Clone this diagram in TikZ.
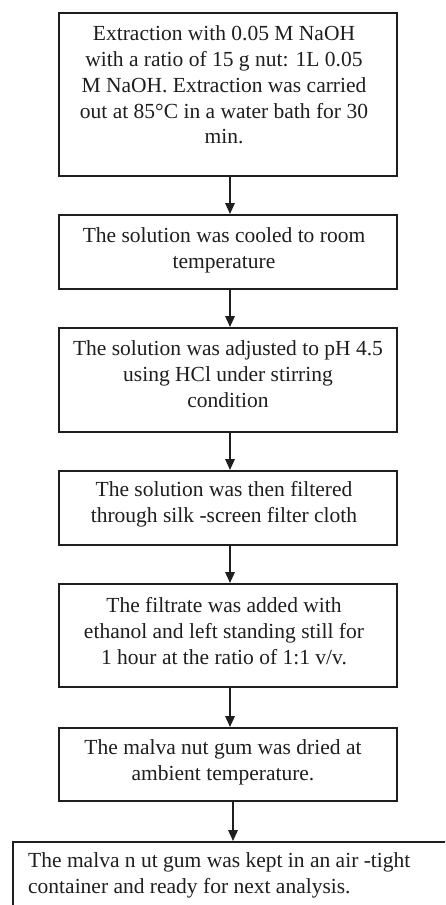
\documentclass[tikz,border=0pt]{standalone}
\usepackage{fontspec}
\setmainfont{Liberation Serif}
\usetikzlibrary{arrows.meta}
\definecolor{ink}{HTML}{1E1E1E}
\begin{document}
\begin{tikzpicture}[x=1pt,y=-1pt,
  box/.style={draw=ink, line width=2pt, rectangle, minimum width=338pt, inner sep=0pt},
  txt/.style={font=\fontsize{21.5}{25.8}\selectfont, text=ink, align=center, inner sep=0pt},
  arr/.style={draw=ink, line width=1.8pt, -{Triangle[width=9.5pt,length=11pt]}}]
\useasboundingbox (0,0) rectangle (445,905);
\clip (0,0) rectangle (445,905);
% boxes
\node[box, minimum height=163pt] (b1) at (228,94.5) {};
\node[box, minimum height=74pt]  (b2) at (228,252) {};
\node[box, minimum height=104pt] (b3) at (228,380) {};
\node[box, minimum height=74pt]  (b4) at (228,508) {};
\node[box, minimum height=103pt] (b5) at (228,635.5) {};
\node[box, minimum height=73pt]  (b6) at (228,764.5) {};
\node[box, minimum width=480pt, minimum height=120pt, anchor=north west] (b7) at (12,841) {};
% texts
\node[txt] (t1) at (224,85) {Extraction with 0.05 M NaOH\\with a ratio of 15 g nut: 1L 0.05\\M NaOH. Extraction was carried\\out at 85°C in a water bath for 30\\min.};
\node[txt] (t2) at (224,250) {The solution was cooled to room\\temperature};
\node[txt] (t3) at (228,374) {The solution was adjusted to pH 4.5\\using HCl under stirring\\condition};
\node[txt] (t4) at (224,504.5) {The solution was then filtered\\through silk -screen filter cloth};
\node[txt] (t5) at (224,631) {The filtrate was added with\\ethanol and left standing still for\\1 hour at the ratio of 1:1 v/v.};
\node[txt] (t6) at (223,762.5) {The malva nut gum was dried at\\ambient temperature.};
\node[txt, align=left, anchor=west] (t7) at (28,875) {The malva n ut gum was kept in an air -tight\\container and ready for next analysis.};
% connectors
\coordinate (a1) at ([xshift=2pt]b1.south);
\coordinate (a2) at ([xshift=2pt]b2.south);
\coordinate (a3) at ([xshift=2pt]b3.south);
\coordinate (a4) at ([xshift=2pt]b4.south);
\coordinate (a5) at ([xshift=2pt]b5.south);
\coordinate (a6) at ([xshift=5pt]b6.south);
\draw[arr] (a1) -- (a1 |- b2.north);
\draw[arr] (a2) -- (a2 |- b3.north);
\draw[arr] (a3) -- (a3 |- b4.north);
\draw[arr] (a4) -- (a4 |- b5.north);
\draw[arr] (a5) -- (a5 |- b6.north);
\draw[arr] (a6) -- (a6 |- b7.north);
\end{tikzpicture}
\end{document}
